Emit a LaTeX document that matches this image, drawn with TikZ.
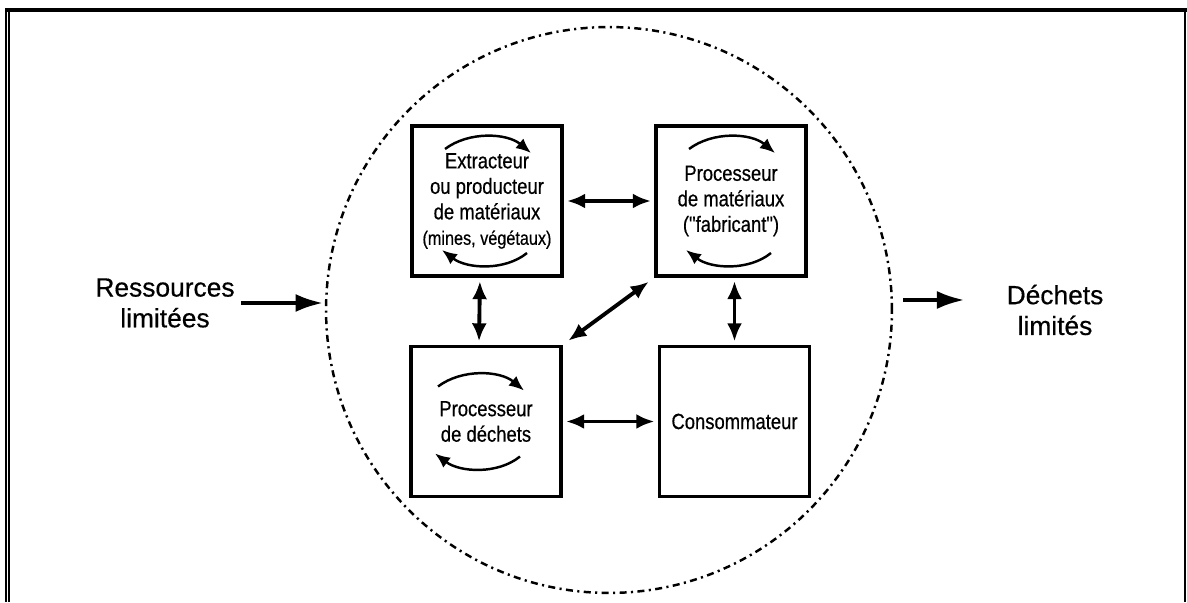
\documentclass[tikz,border=0pt]{standalone}
\usepackage{fontspec}
\setmainfont[FakeBold=0.5]{Liberation Sans}
\newfontfamily\boxfont[FakeStretch=0.84,FakeBold=0.5]{Liberation Sans}
\usetikzlibrary{positioning,arrows.meta,calc}

\begin{document}
\begin{tikzpicture}[x=0.02cm,y=0.02cm,
  unit/.style={draw,line width=1.9pt,minimum width=3cm,minimum height=3cm,inner sep=0pt,align=center,font=\boxfont\fontsize{12.5}{14.5}\selectfont},
  link/.style={{Latex[length=3.6mm,width=3mm]}-{Latex[length=3.6mm,width=3mm]},line width=2.2pt,shorten <=2pt,shorten >=2pt},
  flow/.style={-{Latex[length=5.5mm,width=3.6mm]},line width=2.2pt},
  turn/.style={-{Latex[length=3mm,width=2.5mm]},line width=1.4pt},
  lab/.style={align=center,font=\fontsize{15}{17.5}\selectfont}]
  \useasboundingbox (0,0) rectangle (1187,602);
  % page frame
  \draw[line width=2.3pt] (5,592) -- (1187,592);
  \draw[line width=1.1pt] (6,0) -- (6,594);
  \draw[line width=1.1pt] (9,0) -- (9,590);
  \draw[line width=0.6pt] (1185,0) -- (1185,592);
  % system boundary
  \node[circle,draw,line width=1.4pt,dash pattern=on 4pt off 2.5pt on 1.2pt off 2.5pt,minimum size=11.32cm,inner sep=0pt] (ring) at (609,292) {};
  % actors
  \node[unit] (extr) at (487,401) {Extracteur\\ou producteur\\de matériaux\\{\fontsize{11}{14}\selectfont(mines, végétaux)}};
  \node[unit] (proc) at (731,401) {Processeur\\de matériaux\\("fabricant")};
  \node[unit] (dech) at (486,180.5) {Processeur\\de déchets};
  \node[unit] (cons) at (734.5,180.5) {Consommateur};
  % inflow and outflow
  \node[lab] (res) at (165,299) {Ressources\\limitées};
  \node[lab] (rej) at (1055,292) {Déchets\\limités};
  \draw[flow] (res.east) -- ([xshift=-1pt]res.east -| ring.west);
  \draw[flow] ($(ring.east)+(10,10)$) -- ($(rej.west)+(-36,10)$);
  % exchanges between actors
  \draw[link] (extr.east) -- (proc.west);
  \draw[link] ([xshift=-4pt]extr.south) -- ([xshift=-4pt]dech.north);
  \draw[link] (proc.south -| cons.north) -- (cons.north);
  \draw[link] (dech.east) -- (cons.west);
  \draw[link,shorten <=4pt,shorten >=4pt] (dech.north east) -- (proc.south west);
  % internal cycles
  \foreach \n/\dx/\h in {extr/0/52,proc/0/52,dech/-6/35}{
    \draw[turn] ($(\n)+(\dx-42,\h)$) .. controls ($(\n)+(\dx-18,\h+18)$) and ($(\n)+(\dx+20,\h+16)$) .. ($(\n)+(\dx+44,\h-4)$);
    \draw[turn] ($(\n)+(\dx+40,-\h)$) .. controls ($(\n)+(\dx+18,-\h-18)$) and ($(\n)+(\dx-20,-\h-16)$) .. ($(\n)+(\dx-45,-\h+3)$);
  }
\end{tikzpicture}
\end{document}
